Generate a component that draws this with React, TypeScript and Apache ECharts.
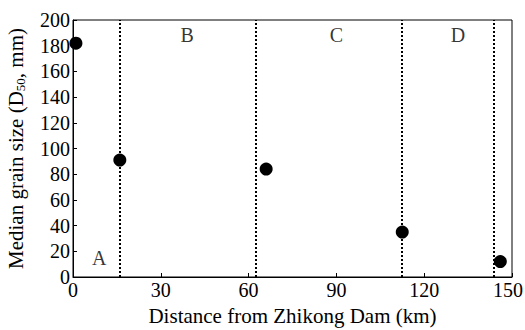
import React, { useEffect, useRef } from "react";
import * as echarts from "echarts";

const points: [number, number][] = [
  [1, 182],
  [16, 91],
  [66, 84],
  [112.5, 35],
  [146, 12],
];
const boundaries = [16, 62.5, 112.2, 143.7];
const zoneLabels: { name: string; x: number; y: number }[] = [
  { name: "A", x: 9, y: 15 },
  { name: "B", x: 39, y: 188 },
  { name: "C", x: 90, y: 188 },
  { name: "D", x: 131.5, y: 188 },
];

const FONT = "Liberation Serif";
const FS = 20;

export default function App() {
  const ref = useRef<HTMLDivElement>(null);
  useEffect(() => {
    if (!ref.current) return;
    const chart = echarts.init(ref.current, null, { renderer: "svg" });
    chart.setOption({
      animation: false,
      backgroundColor: "#fff",
      textStyle: { fontFamily: FONT },
      grid: {
        left: 73,
        right: 13,
        top: 20,
        bottom: 53,
        show: true,
        borderColor: "#000",
        borderWidth: 1,
        outerBoundsMode: "none",
        containLabel: false,
      },
      xAxis: {
        type: "value",
        min: 0,
        max: 150,
        interval: 30,
        name: "Distance from Zhikong Dam (km)",
        nameLocation: "middle",
        nameGap: 28,
        nameTextStyle: { fontFamily: FONT, fontSize: 21, color: "#000" },
        axisLine: { show: true, lineStyle: { color: "#000", width: 1 } },
        axisTick: { show: true, inside: true, length: 4, lineStyle: { color: "#000" } },
        axisLabel: {
          fontFamily: FONT,
          fontSize: FS,
          color: "#000",
          margin: 3,
          formatter: (v: number) => (v === 150 ? "{m|150}" : String(v)),
          rich: {
            m: { fontFamily: FONT, fontSize: FS, color: "#000", padding: [0, 8, 0, 0] },
          },
        },
        splitLine: { show: false },
      },
      yAxis: {
        type: "value",
        min: 0,
        max: 200,
        interval: 20,
        name: "{n|Median grain size (D}{s|50}{n|, mm)}",
        nameLocation: "middle",
        nameGap: 46,
        nameRotate: 90,
        nameTextStyle: {
          fontFamily: FONT,
          fontSize: 21,
          color: "#000",
          rich: {
            n: { fontFamily: FONT, fontSize: 21, color: "#000" },
            s: { fontFamily: FONT, fontSize: 13, color: "#000", padding: [10, 0, 0, 0] },
          },
        },
        axisLine: { show: true, lineStyle: { color: "#000", width: 1 } },
        axisTick: { show: true, inside: true, length: 4, lineStyle: { color: "#000" } },
        axisLabel: { fontFamily: FONT, fontSize: FS, color: "#000", margin: 3 },
        splitLine: { show: false },
      },
      series: [
        {
          type: "scatter",
          data: points,
          symbol: "circle",
          symbolSize: 13,
          itemStyle: { color: "#000", opacity: 1 },
          clip: false,
          markLine: {
            silent: true,
            symbol: "none",
            label: { show: false },
            lineStyle: { color: "#000", width: 2, type: [2, 2] },
            data: boundaries.map((b) => ({ xAxis: b })),
          },
        },
        {
          type: "scatter",
          data: zoneLabels.map((z) => [z.x, z.y, z.name]),
          symbolSize: 0,
          label: {
            show: true,
            position: "inside",
            formatter: (p: any) => p.data[2],
            fontFamily: FONT,
            fontSize: FS,
            color: "#000",
          },
        },
      ],
    });
    return () => chart.dispose();
  }, []);
  return (
    <div
      ref={ref}
      style={{ position: "fixed", left: 0, top: 0, width: 525, height: 330 }}
    />
  );
}
